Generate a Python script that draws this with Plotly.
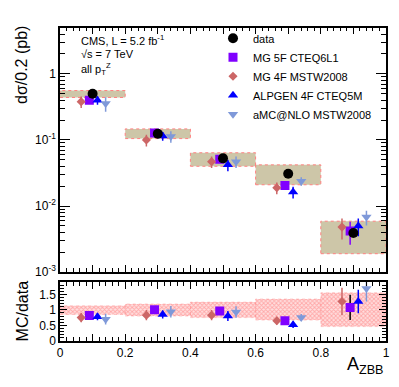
import numpy as np
import plotly.graph_objects as go

# bins of A_ZBB
bin_lo = [0.0, 0.2, 0.4, 0.6, 0.8]
bin_hi = [0.2, 0.4, 0.6, 0.8, 1.0]
bin_mid = [0.1, 0.3, 0.5, 0.7, 0.9]

# dsigma/0.2 (pb)
data = [0.50, 0.124, 0.0527, 0.0308, 0.0039]
band_lo = [0.44, 0.105, 0.040, 0.021, 0.0019]
band_hi = [0.56, 0.147, 0.064, 0.042, 0.0059]

mg5f = [0.40, 0.127, 0.051, 0.0204, 0.0042]
mg4f = [0.38, 0.100, 0.047, 0.0189, 0.0048]
alpgen = [0.40, 0.115, 0.042, 0.0163, 0.0050]
amc = [0.355, 0.113, 0.047, 0.0238, 0.0068]

# relative uncertainties of the predictions
mg5f_err = [0.08, 0.10, 0.12, 0.10, 0.38]
mg4f_err = [0.20, 0.20, 0.20, 0.20, 0.35]
alpgen_err = [0.15, 0.15, 0.20, 0.20, 0.30]
amc_err = [0.25, 0.20, 0.20, 0.15, 0.25]

# MC/data
r_band_lo = [0.85, 0.80, 0.75, 0.67, 0.46]
r_band_hi = [1.13, 1.19, 1.25, 1.35, 1.55]
r_mg5f = [0.82, 1.00, 0.96, 0.65, 1.08]
r_mg4f = [0.75, 0.83, 0.83, 0.65, 1.27]
r_alpgen = [0.78, 0.85, 0.80, 0.52, 1.27]
r_amc = [0.70, 0.94, 0.93, 0.75, 1.69]

FONT = "Liberation Sans, Arial, Helvetica, sans-serif"

series = [
    # name, values, ratios, rel err, colour, symbol, size, offset, ratio err colour
    ("MG 5F CTEQ6L1", mg5f, r_mg5f, mg5f_err, "#8000ff", "square", 9, -0.01, "black"),
    ("MG 4F MSTW2008", mg4f, r_mg4f, mg4f_err, "#cc6666", "diamond", 7, -0.035, "#cc6666"),
    ("ALPGEN 4F CTEQ5M", alpgen, r_alpgen, alpgen_err, "#0000ff", "triangle-up", 9, 0.015, "#0000ff"),
    ("aMC@NLO MSTW2008", amc, r_amc, amc_err, "#7f99d9", "triangle-down", 9, 0.04, "#7f99d9"),
]


def rect_path(lo, hi, x0, x1):
    xs, ys = [], []
    for a, b, l, h in zip(x0, x1, lo, hi):
        xs += [a, b, b, a, a, None]
        ys += [l, l, h, h, l, None]
    return xs, ys


fig = go.Figure()

# data uncertainty band, top panel
bx, by = rect_path(band_lo, band_hi, bin_lo, bin_hi)
fig.add_trace(go.Scatter(x=bx, y=by, mode="lines", fill="toself",
                         fillcolor="#cdc6a8",
                         line=dict(color="#ff8080", width=1, dash="dot"),
                         hoverinfo="skip", showlegend=False,
                         xaxis="x", yaxis="y"))

# ratio band
rx, ry = rect_path(r_band_lo, r_band_hi, bin_lo, bin_hi)
fig.add_trace(go.Scatter(x=rx, y=ry, mode="lines", fill="toself",
                         fillcolor="rgba(255,200,200,0.6)",
                         fillpattern=dict(shape="x", fgcolor="rgba(255,100,100,0.9)",
                                          bgcolor="rgba(255,210,210,0.7)",
                                          size=3, solidity=0.5),
                         line=dict(color="rgba(255,130,130,0.7)", width=0.5, dash="dot"),
                         hoverinfo="skip", showlegend=False,
                         xaxis="x2", yaxis="y2"))

# data goes first in the legend
fig.add_trace(go.Scatter(x=[None], y=[None], mode="markers", name="data",
                         marker=dict(color="black", symbol="circle", size=10),
                         xaxis="x", yaxis="y"))

for name, vals, rat, rel, col, sym, sz, off, rcol in series:
    xs = [m + off for m in bin_mid]
    errs = [v * e for v, e in zip(vals, rel)]
    fig.add_trace(go.Scatter(x=xs, y=vals, mode="markers", name=name,
                             marker=dict(color=col, symbol=sym, size=sz),
                             error_y=dict(type="data", array=errs, color=col,
                                          thickness=1.5, width=0),
                             xaxis="x", yaxis="y"))
    rerrs = [r * e for r, e in zip(rat, rel)]
    fig.add_trace(go.Scatter(x=xs, y=rat, mode="markers", showlegend=False,
                             marker=dict(color=col, symbol=sym, size=sz),
                             error_y=dict(type="data", array=rerrs, color=rcol,
                                          thickness=1.5, width=0),
                             xaxis="x2", yaxis="y2"))

# data points on top
fig.add_trace(go.Scatter(x=bin_mid, y=data, mode="markers", showlegend=False,
                         marker=dict(color="black", symbol="circle", size=10),
                         xaxis="x", yaxis="y"))

W, H = 399, 387
OFFX, OFFY = 8, 3       # where the figure corner lands in the screenshot
ML = 60 - OFFX          # frame left edge at x=60 in the window
MR = W - (386 - OFFX)   # frame right edge at x=386
PW = W - ML - MR


def px(x):
    # window pixel -> paper x
    return (x - OFFX - ML) / PW


def py(y):
    # window pixel -> paper y
    return 1 - (y - OFFY) / H


axis_common = dict(showgrid=False, zeroline=False, showline=True, linecolor="black",
                   linewidth=1.5, mirror="ticks", ticks="inside", tickcolor="black",
                   tickfont=dict(family=FONT, size=12, color="black"))

x_major = [0.0, 0.1, 0.2, 0.3, 0.4, 0.5, 0.6, 0.7, 0.8, 0.9, 1.0]
x_labels = ["0", "", "0.2", "", "0.4", "", "0.6", "", "0.8", "", "1"]

top_minor = [m * 10.0 ** e for e in (-3, -2, -1, 0) for m in range(2, 10)]

fig.update_layout(
    width=W, height=H,
    margin=dict(l=ML, r=MR, t=0, b=0),
    paper_bgcolor="white", plot_bgcolor="white",
    font=dict(family=FONT, color="black"),
    xaxis=dict(axis_common, domain=[0, 1], range=[0, 1], anchor="y",
               tickvals=x_major, ticktext=[""] * len(x_major), ticklen=7,
               minor=dict(dtick=0.02, ticks="inside", ticklen=4, tickcolor="black")),
    yaxis=dict(axis_common, domain=[py(272), py(23)], type="log", range=[-3, 0.7],
               anchor="x", tickvals=[0.001, 0.01, 0.1, 1],
               ticktext=["10<sup>-3</sup>", "10<sup>-2</sup>", "10<sup>-1</sup>", "1"],
               ticklen=10,
               minor=dict(tickvals=top_minor, ticks="inside", ticklen=5, tickcolor="black")),
    xaxis2=dict(axis_common, domain=[0, 1], range=[0, 1], anchor="y2",
                tickvals=x_major, ticktext=x_labels, ticklen=7,
                minor=dict(dtick=0.02, ticks="inside", ticklen=4, tickcolor="black")),
    yaxis2=dict(axis_common, domain=[py(342), py(282)], range=[0, 1.9], anchor="x2",
                tickvals=[0, 0.5, 1, 1.5], ticktext=["0", "0.5", "1", "1.5"], ticklen=7,
                minor=dict(dtick=0.1, ticks="inside", ticklen=4, tickcolor="black")),
    legend=dict(x=px(213), y=py(19), xanchor="left", yanchor="top",
                bgcolor="rgba(0,0,0,0)", font=dict(family=FONT, size=11),
                tracegroupgap=0, itemsizing="trace"),
    showlegend=True,
)

ann = [
    dict(text="CMS, L = 5.2 fb<sup>-1</sup>", x=px(79), y=py(36)),
    dict(text="√s = 7 TeV", x=px(79), y=py(50)),
    dict(text="all p<sub>T</sub><sup>Z</sup>", x=px(79), y=py(65)),
]
for a in ann:
    fig.add_annotation(xref="paper", yref="paper", xanchor="left", yanchor="middle",
                       showarrow=False, font=dict(family=FONT, size=11), **a)

fig.add_annotation(text="dσ/0.2 (pb)", xref="paper", yref="paper", x=px(22), y=py(61),
                   xanchor="center", yanchor="middle", textangle=-90, showarrow=False,
                   font=dict(family=FONT, size=16))
fig.add_annotation(text="MC/data", xref="paper", yref="paper", x=px(22), y=py(312),
                   xanchor="center", yanchor="middle", textangle=-90, showarrow=False,
                   font=dict(family=FONT, size=16))
fig.add_annotation(text="A<sub>ZBB</sub>", xref="paper", yref="paper", x=px(386), y=py(381),
                   xanchor="right", yanchor="bottom", showarrow=False,
                   font=dict(family=FONT, size=18))

fig.write_html("out.html", config={"displayModeBar": False})
